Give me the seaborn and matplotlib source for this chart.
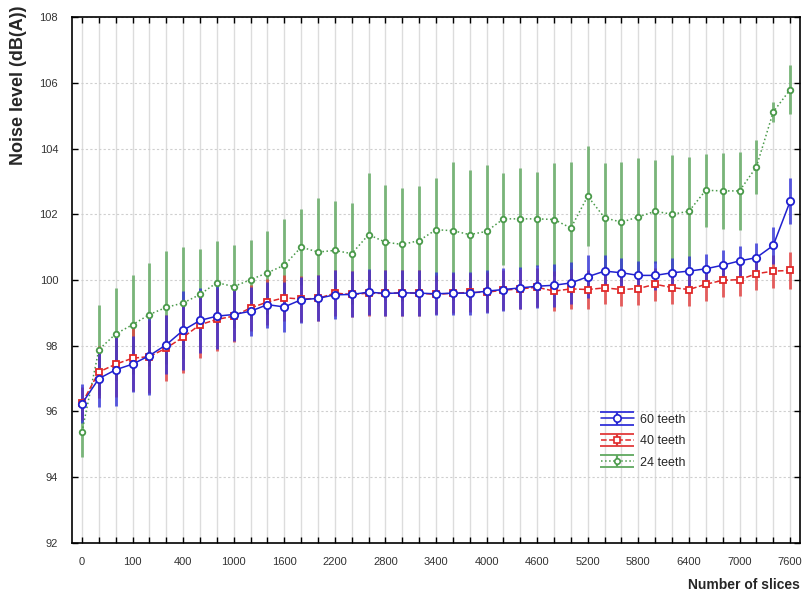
import numpy as np
import pandas as pd
import matplotlib
matplotlib.use("Agg")
import matplotlib.pyplot as plt
import seaborn as sns
from matplotlib.container import ErrorbarContainer
from matplotlib.lines import Line2D
from matplotlib.collections import LineCollection

# ---------------- data ----------------
slices = [0, 25, 50, 100, 200, 300] + list(range(400, 7601, 200))
tick_labels = ["0", "100", "400", "1000", "1600", "2200", "2800", "3400",
               "4000", "4600", "5200", "5800", "6400", "7000", "7600"]

teeth60 = [96.24, 97.00, 97.27, 97.44, 97.70, 98.03, 98.47, 98.77, 98.90, 98.95,
           99.05, 99.25, 99.18, 99.40, 99.44, 99.55, 99.56, 99.63, 99.59, 99.61,
           99.60, 99.58, 99.60, 99.60, 99.66, 99.71, 99.76, 99.81, 99.84, 99.91,
           100.10, 100.27, 100.22, 100.14, 100.14, 100.22, 100.27, 100.34, 100.45, 100.58,
           100.68, 101.05, 102.39]
err60 = [0.60, 0.85, 1.10, 0.85, 1.20, 0.90, 1.20, 1.00, 1.00, 0.80,
         0.75, 0.70, 0.75, 0.70, 0.70, 0.75, 0.70, 0.70, 0.70, 0.70,
         0.70, 0.65, 0.65, 0.65, 0.65, 0.65, 0.65, 0.65, 0.65, 0.65,
         0.65, 0.50, 0.45, 0.45, 0.45, 0.45, 0.45, 0.45, 0.45, 0.45,
         0.45, 0.55, 0.70]

teeth40 = [96.25, 97.20, 97.44, 97.62, 97.67, 97.93, 98.26, 98.64, 98.80, 98.90,
           99.15, 99.33, 99.46, 99.42, 99.44, 99.60, 99.56, 99.60, 99.59, 99.61,
           99.60, 99.56, 99.60, 99.62, 99.63, 99.69, 99.73, 99.78, 99.66, 99.73,
           99.71, 99.76, 99.71, 99.74, 99.87, 99.77, 99.71, 99.87, 99.99, 100.01,
           100.19, 100.27, 100.29]
err40 = [0.50, 0.80, 1.00, 1.00, 1.10, 1.00, 1.10, 1.00, 0.95, 0.80,
         0.70, 0.70, 0.70, 0.70, 0.70, 0.70, 0.70, 0.70, 0.70, 0.70,
         0.70, 0.60, 0.60, 0.60, 0.60, 0.60, 0.60, 0.60, 0.60, 0.60,
         0.60, 0.50, 0.50, 0.50, 0.50, 0.50, 0.50, 0.50, 0.50, 0.50,
         0.50, 0.50, 0.55]

teeth24 = [95.38, 97.88, 98.36, 98.64, 98.95, 99.17, 99.30, 99.56, 99.92, 99.80,
           100.01, 100.22, 100.45, 101.00, 100.85, 100.90, 100.80, 101.38, 101.15, 101.08,
           101.20, 101.53, 101.50, 101.38, 101.48, 101.86, 101.86, 101.86, 101.84, 101.58,
           102.55, 101.89, 101.76, 101.92, 102.09, 102.00, 102.09, 102.73, 102.71, 102.71,
           103.44, 105.11, 105.79]
err24 = [0.75, 1.37, 1.41, 1.50, 1.58, 1.72, 1.70, 1.38, 1.28, 1.27,
         1.20, 1.26, 1.41, 1.16, 1.65, 1.50, 1.54, 1.88, 1.75, 1.72,
         1.65, 1.57, 2.10, 1.98, 2.02, 1.40, 1.54, 1.44, 1.72, 2.02,
         1.52, 1.67, 1.83, 1.80, 1.57, 1.79, 1.65, 1.11, 1.15, 1.19,
         0.81, 0.30, 0.74]

series_names = ["60 teeth", "40 teeth", "24 teeth"]

# ---------------- figure ----------------
sns.set_theme(style="white")
plt.rcParams["font.family"] = ["Liberation Sans", "DejaVu Sans"]

fig = plt.figure(figsize=(8.03, 5.97), dpi=100)
ax = fig.add_axes([0.0897, 0.0905, 0.9066, 0.881])

pos = np.arange(len(slices))
specs = [
    ("24 teeth", teeth24, err24, "#4a9a4a", "#5fa85f", ":", "o", 4.0),
    ("40 teeth", teeth40, err40, "#e02828", "#e23a3a", "--", "s", 5.0),
    ("60 teeth", teeth60, err60, "#2020d0", "#3030d8", "-", "o", 5.3),
]

handles = {}
for name, vals, errs, col, ecol, ls, mk, ms in specs:
    ax.errorbar(pos, vals, yerr=errs, fmt="none", ecolor=ecol,
                elinewidth=2.1, capsize=0, alpha=0.78, zorder=2)

for name, vals, errs, col, ecol, ls, mk, ms in specs:
    df = pd.DataFrame({"pos": pos, "value": vals})
    sns.lineplot(data=df, x="pos", y="value", ax=ax, color=col, linestyle=ls,
                 linewidth=1.1, marker=mk, markersize=ms, markerfacecolor="white",
                 markeredgecolor=col, markeredgewidth=1.3, legend=False, zorder=3)
    # legend proxy in errorbar style
    pl = Line2D([], [], color=col, linestyle=ls, linewidth=1.1, marker=mk,
                markersize=ms, markerfacecolor="white", markeredgecolor=col,
                markeredgewidth=1.2)
    cap = Line2D([], [], color=ecol, marker="_", markersize=24, markeredgewidth=1.3)
    bar = LineCollection([], colors=ecol, linewidths=1.6)
    handles[name] = ErrorbarContainer((pl, (cap, cap), [bar]),
                                      has_xerr=False, has_yerr=True, label=name)

ax.set_xlim(-0.59, len(slices) - 1 + 0.59)
ax.set_ylim(92, 108)

ax.set_xticks(pos)
xt = ["" for _ in pos]
for i, lab in enumerate(tick_labels):
    xt[3 * i] = lab
ax.set_xticklabels(xt, fontsize=8, color="#333333")
ax.set_yticks(np.arange(92, 109, 2))
ax.set_yticklabels([str(v) for v in range(92, 109, 2)], fontsize=8, color="#333333")

ax.tick_params(axis="both", direction="in", length=4, width=1, color="black",
               top=True, right=True, bottom=True, left=True)
ax.tick_params(axis="x", pad=10)
ax.tick_params(axis="y", pad=10, labelright=False)

ax.grid(axis="x", color="#dcdcdc", linewidth=1)
ax.grid(axis="y", color="#cfcfcf", linewidth=0.8, linestyle=(0, (2, 2)))
ax.set_axisbelow(True)
for s in ax.spines.values():
    s.set_color("black")
    s.set_linewidth(1.2)

ax.set_xlabel("Number of slices", fontsize=10, fontweight="bold", loc="right",
              labelpad=8)
ax.set_ylabel("Noise level (dB(A))", fontsize=13, fontweight="bold", loc="top")
ax.yaxis.set_label_coords(-0.062, 1.022)

ax.legend([handles[n] for n in series_names], series_names,
          loc="upper left", bbox_to_anchor=(0.72, 0.255), frameon=False,
          fontsize=9, handlelength=2.6, labelspacing=0.75, handletextpad=0.5,
          borderaxespad=0)

fig.savefig("out.png", dpi=100)
